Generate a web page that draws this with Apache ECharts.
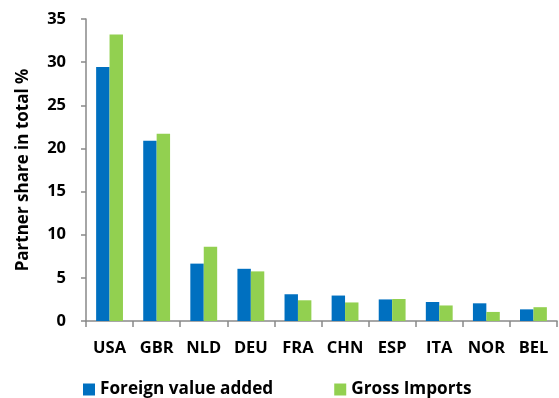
<!DOCTYPE html>
<html><head><meta charset="utf-8">
<script src="https://cdn.jsdelivr.net/npm/echarts@6/dist/echarts.min.js"></script>
<style>html,body{margin:0;padding:0;background:#fff}#c{width:559px;height:398px}</style>
</head><body><div id="c"></div>
<script>
const categories = ['USA','GBR','NLD','DEU','FRA','CHN','ESP','ITA','NOR','BEL'];
const foreignValueAdded = [29.45, 20.9, 6.65, 6.05, 3.1, 2.95, 2.5, 2.2, 2.05, 1.35];
const grossImports = [33.2, 21.7, 8.6, 5.75, 2.4, 2.15, 2.55, 1.8, 1.05, 1.6];
const yTicks = [0,5,10,15,20,25,30,35];
const FONT = 'Open Sans';
const chart = echarts.init(document.getElementById('c'), null, {renderer:'canvas'});
chart.setOption({
  animation:false,
  textStyle:{fontFamily:FONT},
  grid:{left:86,right:2,top:19,bottom:77,containLabel:false},
  legend:{
    left:78, top:376, itemWidth:12, itemHeight:12, itemGap:61,
    icon:'rect',
    textStyle:{fontFamily:FONT,fontWeight:'bold',fontSize:17.2,color:'#000'},
    data:['Foreign value added','Gross Imports']
  },
  xAxis:{
    type:'category', data:categories,
    axisLine:{lineStyle:{color:'#898989',width:1.5}},
    axisTick:{show:true,alignWithLabel:false,length:6,lineStyle:{color:'#898989',width:1.5}},
    axisLabel:{interval:0,fontFamily:FONT,fontWeight:'bold',fontSize:16.5,color:'#000',margin:19}
  },
  yAxis:{
    type:'value', min:yTicks[0], max:yTicks[yTicks.length-1], interval:5,
    name:'Partner share in total %', nameLocation:'middle', nameGap:54,
    nameTextStyle:{fontFamily:FONT,fontWeight:'bold',fontSize:17,color:'#000'},
    axisLine:{show:true,lineStyle:{color:'#898989',width:1.5}},
    axisTick:{show:true,length:5,lineStyle:{color:'#898989',width:1.5}},
    splitLine:{show:false},
    axisLabel:{fontFamily:FONT,fontWeight:'bold',fontSize:16.5,color:'#000',margin:20}
  },
  series:[
    {name:'Foreign value added',type:'bar',data:foreignValueAdded,itemStyle:{color:'#0070C0'},barGap:'0%',barCategoryGap:'43%'},
    {name:'Gross Imports',type:'bar',data:grossImports,itemStyle:{color:'#92D050'},barGap:'0%',barCategoryGap:'43%'}
  ]
});
</script></body></html>
